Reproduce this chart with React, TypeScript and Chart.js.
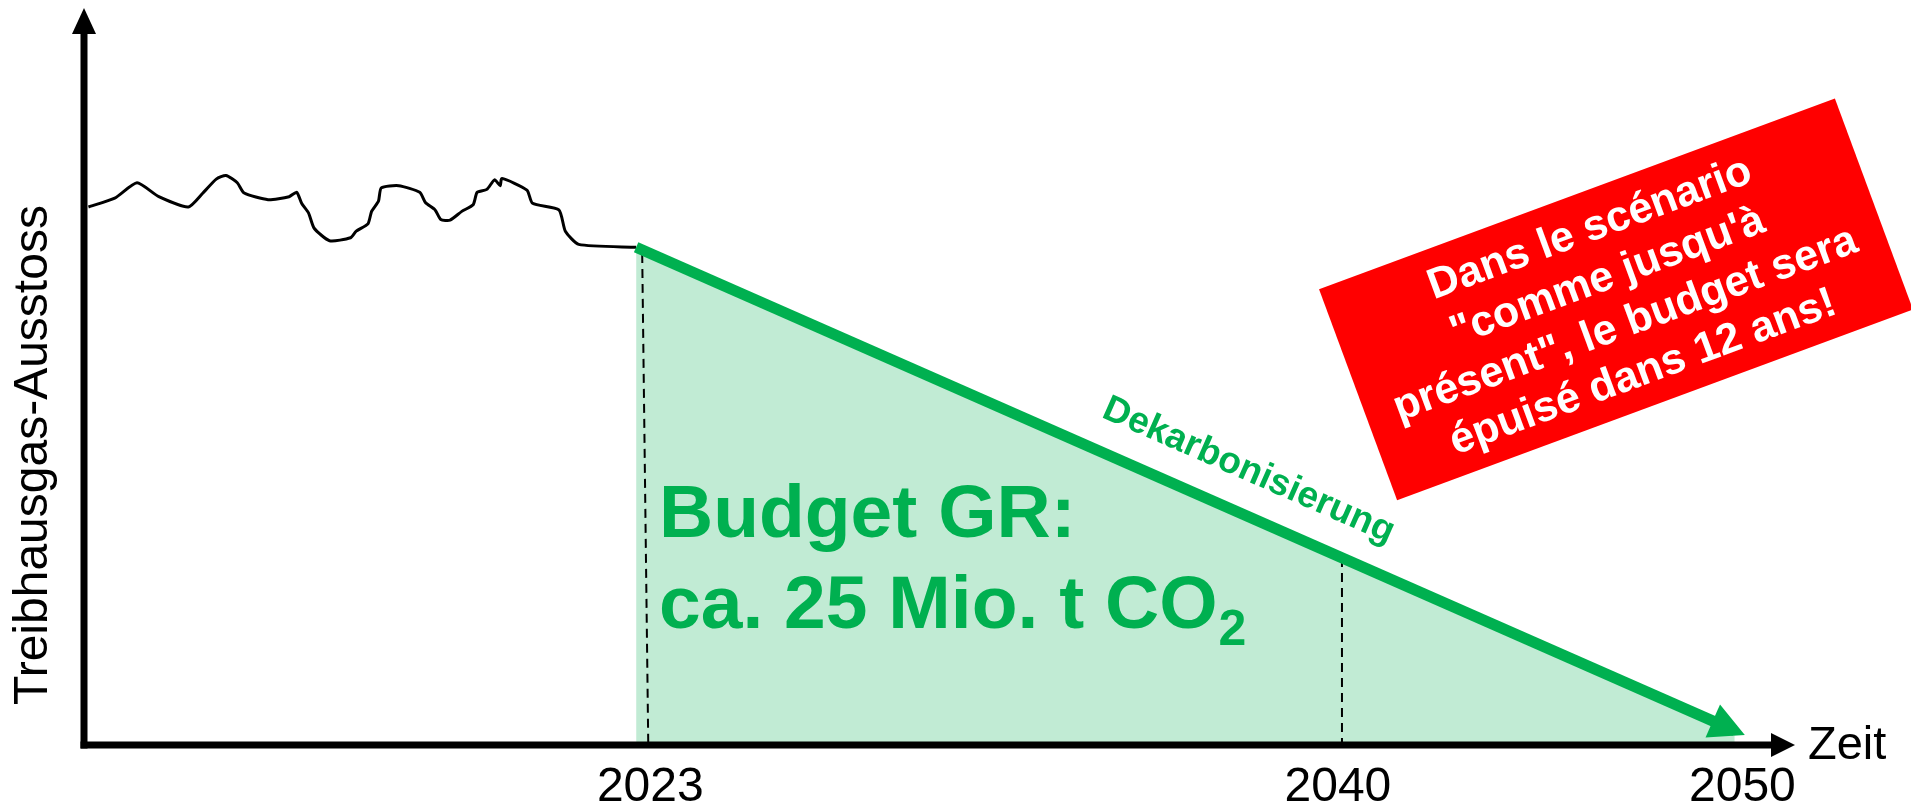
import { useEffect, useRef } from "react";
import { Chart, registerables } from "chart.js";

Chart.register(...registerables);

const FONT = "'Liberation Sans', Arial, Helvetica, sans-serif";
const GREEN = "#00B050";
const MINT = "#C1EBD4";
const RED = "#FF0000";

// Historical greenhouse-gas emissions (schematic)
const historyYears = [
  2009.11, 2009.76, 2010.31, 2010.85, 2011.58, 2011.94, 2012.27, 2012.51, 2012.79, 2012.96,
  2013.55, 2014.07, 2014.26, 2014.38, 2014.55, 2014.69, 2015.07, 2015.59, 2015.73, 2016.02,
  2016.11, 2016.28, 2016.35, 2016.78, 2017.3, 2017.44, 2017.68, 2017.82, 2018.05, 2018.34,
  2018.62, 2018.72, 2018.96, 2019.15, 2019.29, 2019.33, 2019.95, 2020.09, 2020.74, 2020.9,
  2021.23, 2022.65,
];
const historyValues = [
  73.4, 74.6, 76.7, 74.8, 73.4, 75.3, 77.2, 77.7, 76.7, 75.3,
  74.4, 74.8, 75.4, 73.9, 72.6, 70.5, 68.8, 69.2, 70.1, 71.1,
  72.8, 74.2, 76.0, 76.3, 75.4, 74.0, 73.0, 71.7, 71.6, 72.8,
  73.7, 75.4, 75.8, 77.1, 76.3, 77.3, 75.7, 73.9, 73.0, 70.1,
  68.3, 67.9,
];

// Decarbonisation path (budget)
const pathYears = [2022.65, 2049.81];
const pathValues = [67.9, 1.96];

// Dashed marker lines
const marker2023Years = [2022.8, 2022.95];
const marker2023Values = [67.0, 0];
const marker2040Years = [2040.1, 2040.1];
const marker2040Values = [25.5, 0];

// Axis tick labels
const tickYears = [2023, 2040, 2050];

const yAxisTitle = "Treibhausgas-Ausstoss";
const xAxisTitle = "Zeit";
const pathLabel = "Dekarbonisierung";
const budgetLine1 = "Budget GR:";
const budgetLine2 = "ca. 25 Mio. t CO";
const budgetSub = "2";
const boxLines = [
  "Dans le scénario",
  "\"comme jusqu'à",
  "présent\", le budget sera",
  "épuisé dans 12 ans!",
];

const zip = (xs: number[], ys: number[]) => xs.map((x, i) => ({ x, y: ys[i] }));

const schemaPlugin = {
  id: "schema",
  afterDraw(chart: any) {
    const ctx: CanvasRenderingContext2D = chart.ctx;
    const { left, right, top, bottom } = chart.chartArea;

    // Green arrowhead at end of decarbonisation path
    const pts = chart.getDatasetMeta(1).data;
    const a = pts[0];
    const b = pts[pts.length - 1];
    const dx = b.x - a.x;
    const dy = b.y - a.y;
    const len = Math.hypot(dx, dy);
    const ux = dx / len;
    const uy = dy / len;
    const tipX = b.x + 11 * ux;
    const tipY = b.y + 11 * uy;
    const bx = tipX - 35 * ux;
    const by = tipY - 35 * uy;
    ctx.save();
    ctx.fillStyle = GREEN;
    ctx.beginPath();
    ctx.moveTo(tipX, tipY);
    ctx.lineTo(bx - 18 * uy, by + 18 * ux);
    ctx.lineTo(bx + 18 * uy, by - 18 * ux);
    ctx.closePath();
    ctx.fill();
    ctx.restore();

    // Axes with arrows
    ctx.save();
    ctx.fillStyle = "#000";
    ctx.strokeStyle = "#000";
    ctx.lineWidth = 7;
    ctx.lineCap = "butt";
    ctx.beginPath();
    ctx.moveTo(left, bottom + 3.5);
    ctx.lineTo(left, top + 22);
    ctx.stroke();
    ctx.beginPath();
    ctx.moveTo(left, top - 4);
    ctx.lineTo(left - 12, top + 22);
    ctx.lineTo(left + 12, top + 22);
    ctx.closePath();
    ctx.fill();
    ctx.beginPath();
    ctx.moveTo(left - 3.5, bottom);
    ctx.lineTo(right - 22, bottom);
    ctx.stroke();
    ctx.beginPath();
    ctx.moveTo(right, bottom);
    ctx.lineTo(right - 24, bottom - 12);
    ctx.lineTo(right - 24, bottom + 12);
    ctx.closePath();
    ctx.fill();

    // Axis titles
    ctx.font = `47px ${FONT}`;
    ctx.textAlign = "left";
    ctx.textBaseline = "alphabetic";
    ctx.fillText(xAxisTitle, right + 13, bottom + 14);
    ctx.save();
    ctx.translate(47, 455);
    ctx.rotate(-Math.PI / 2);
    ctx.textAlign = "center";
    ctx.font = `48px ${FONT}`;
    ctx.fillText(yAxisTitle, 0, 0);
    ctx.restore();
    ctx.restore();

    // "Dekarbonisierung" along the path
    ctx.save();
    const t = 0.542;
    const px = a.x + dx * t + 32 * uy;
    const py = a.y + dy * t - 32 * ux;
    ctx.translate(px, py);
    ctx.rotate(Math.atan2(dy, dx));
    ctx.font = `bold 37px ${FONT}`;
    ctx.fillStyle = GREEN;
    ctx.textAlign = "center";
    ctx.textBaseline = "alphabetic";
    ctx.fillText(pathLabel, 0, 0);
    ctx.restore();

    // Budget text
    ctx.save();
    ctx.fillStyle = GREEN;
    ctx.textAlign = "left";
    ctx.textBaseline = "alphabetic";
    ctx.font = `bold 75px ${FONT}`;
    ctx.fillText(budgetLine1, 659, 537);
    ctx.fillText(budgetLine2, 659, 628);
    const w2 = ctx.measureText(budgetLine2).width;
    ctx.font = `bold 50px ${FONT}`;
    ctx.fillText(budgetSub, 659 + w2 + 1, 645);
    ctx.restore();

    // Red rotated box
    ctx.save();
    ctx.translate(1616, 299.4);
    ctx.rotate((-20.3 * Math.PI) / 180);
    ctx.fillStyle = RED;
    ctx.fillRect(-275, -112.5, 550, 225);
    ctx.fillStyle = "#FFFFFF";
    ctx.font = `bold 43px ${FONT}`;
    ctx.textAlign = "center";
    ctx.textBaseline = "alphabetic";
    boxLines.forEach((line, i) => ctx.fillText(line, 0, -63 + i * 51));
    ctx.restore();
  },
};

export default function App() {
  const canvasRef = useRef<HTMLCanvasElement | null>(null);

  useEffect(() => {
    if (!canvasRef.current) return;
    const chart = new Chart(canvasRef.current, {
      type: "line",
      data: {
        datasets: [
          {
            label: "Historie",
            data: zip(historyYears, historyValues),
            borderColor: "#000",
            borderWidth: 3,
            pointRadius: 0,
            tension: 0.2,
            fill: false,
            order: 1,
            clip: false,
          },
          {
            label: "Dekarbonisierung",
            data: zip(pathYears, pathValues),
            borderColor: GREEN,
            backgroundColor: MINT,
            borderWidth: 11,
            pointRadius: 0,
            fill: "origin",
            order: 0,
            clip: false,
          },
          {
            label: "2023",
            data: zip(marker2023Years, marker2023Values),
            borderColor: "#000",
            borderWidth: 2,
            borderDash: [9, 6],
            pointRadius: 0,
            fill: false,
            order: 2,
            clip: false,
          },
          {
            label: "2040",
            data: zip(marker2040Years, marker2040Values),
            borderColor: "#000",
            borderWidth: 2,
            borderDash: [9, 6],
            pointRadius: 0,
            fill: false,
            order: 2,
            clip: false,
          },
        ],
      } as any,
      options: {
        responsive: false,
        devicePixelRatio: 1,
        animation: false,
        layout: { padding: { left: 84, right: 116, top: 12, bottom: 0 } },
        plugins: {
          legend: { display: false },
          tooltip: { enabled: false },
          filler: { drawTime: "beforeDatasetsDraw" },
        } as any,
        scales: {
          x: {
            type: "linear",
            min: 2009,
            max: 2051.3,
            grid: { display: false, drawTicks: false },
            border: { display: false },
            ticks: {
              color: "#000",
              font: { family: FONT, size: 48 },
              padding: 14,
              autoSkip: false,
              maxRotation: 0,
              callback: (v: any) => String(v),
            },
            afterBuildTicks: (s: any) => {
              s.ticks = tickYears.map((v) => ({ value: v }));
            },
            afterFit: (s: any) => {
              s.height = 67;
              s.paddingLeft = 0;
              s.paddingRight = 0;
            },
          },
          y: { type: "linear", display: false, min: 0, max: 100 },
        },
      } as any,
      plugins: [schemaPlugin],
    });
    return () => chart.destroy();
  }, []);

  return (
    <div style={{ position: "absolute", left: 0, top: 0, width: 1911, height: 812, background: "#fff" }}>
      <canvas ref={canvasRef} width={1911} height={812} style={{ display: "block" }} />
    </div>
  );
}
